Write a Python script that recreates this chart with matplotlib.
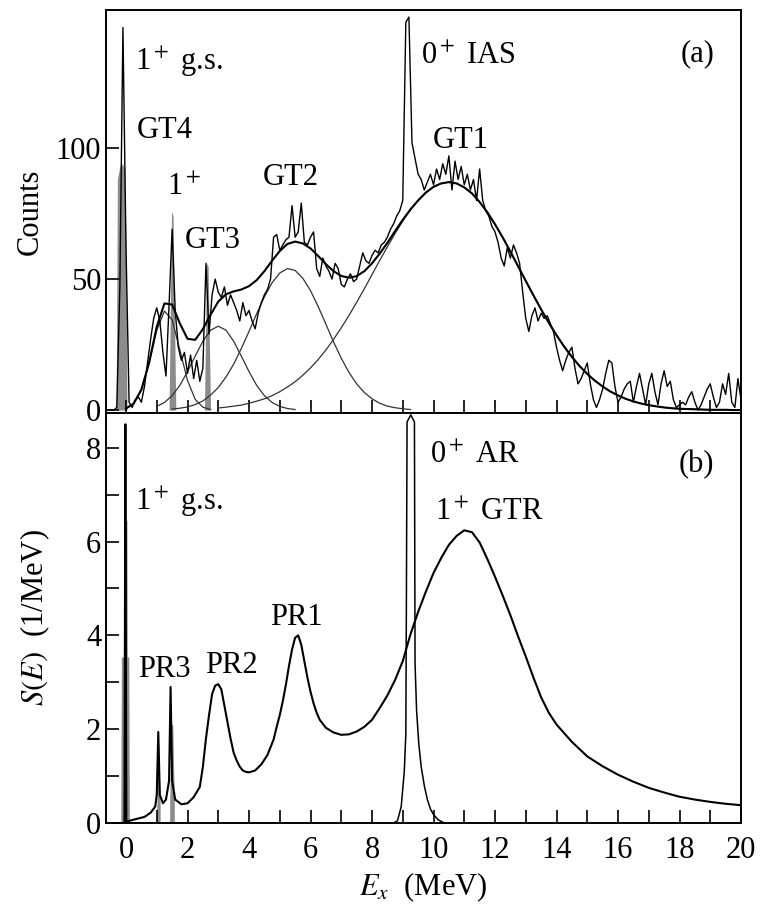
import numpy as np
import matplotlib
matplotlib.use("Agg")
import matplotlib.pyplot as plt

plt.rcParams.update({
    "font.family": "serif",
    "font.serif": ["Liberation Serif", "DejaVu Serif"],
    "mathtext.fontset": "stix",
    "font.size": 22,
})

# ---- panel (a): measured spectrum, 0.1 MeV bins starting at -0.6 MeV
spec_e0 = -0.6
spec_step = 0.1
spec_counts = [
    0, 0, 0, 1, 47, 146,
    62, 3, 1, 4, 5, 3, 9, 18, 27, 35,
    39, 34, 22, 13, 40, 69, 38, 24, 19, 22,
    14, 21, 12, 19, 11, 16, 56, 29, 44, 50,
    45, 43, 47, 40, 44, 41, 38, 34, 41, 36,
    38, 34, 31, 37, 41, 44, 46, 50, 66, 67,
    61, 63, 65, 66, 78, 66, 68, 79, 64, 63,
    66, 68, 54, 51, 58, 55, 53, 50, 56, 54,
    48, 47, 50, 52, 49, 50, 55, 60, 57, 56,
    59, 61, 60, 63, 64, 66, 69, 71, 74, 76,
    80, 148, 150, 102, 96, 90, 88, 84, 87, 90,
    86, 92, 88, 94, 90, 97, 84, 95, 88, 93,
    86, 90, 84, 88, 80, 92, 80, 76, 74, 70,
    68, 64, 58, 55, 62, 58, 63, 60, 56, 45,
    35, 30, 36, 39, 34, 37, 35, 36, 33, 30,
    24, 19, 15, 19, 22, 24, 16, 10, 12, 15,
    18, 10, 4, 1, 4, 8, 14, 19, 18, 9,
    3, 5, 8, 10, 11, 3, 9, 14, 8, 2,
    10, 14, 7, 2, 10, 15, 9, 11, 4, 1,
    2, 3, 2, 5, 7, 3, 0, 2, 5, 8,
    10, 5, 1, 3, 10, 6, 14, 3, 1, 12,
    4,
]

# narrow peaks shown in grey
gs_a_e = [-0.32, -0.28, -0.2, -0.12, -0.04, 0.0, 0.03]
gs_a_c = [0, 88, 93, 94, 92, 60, 0]
p15_e = [1.4, 1.48, 1.53, 1.62]
p15_c = [0, 76, 74, 0]
p26_e = [2.55, 2.62, 2.67, 2.75]
p26_c = [0, 56, 55, 0]

# fitted broad components, 0.25 MeV grid, given by start energy
fit_step = 0.25
gt4_start = 0.0
gt4 = [0.6, 2.5, 7.8, 18, 30.4, 37.8, 34.4, 23, 11.3, 4.1, 1.1, 0.2]
gt3_start = 1.0
gt3 = [1.4, 2.9, 5.5, 9.4, 14.7, 20.6, 26.3, 30.5, 32, 30.5, 26.3, 20.6,
       14.7, 9.4, 5.5, 2.9, 1.4, 0.6, 0.2]
gt2_start = 1.5
gt2 = [0.4, 0.7, 1.2, 2.1, 3.5, 5.7, 8.6, 12.6, 17.5, 23.5, 30.0, 36.8,
       43.2, 48.6, 52.3, 54.0, 53.3, 50.3, 45.6, 39.5, 32.8, 26.0, 19.8,
       14.4, 10.0, 6.7, 4.3, 2.6, 1.5, 0.9, 0.5, 0.2]
gt1_start = 3.0
gt1 = [0.8, 1.1, 1.5, 1.9, 2.6, 3.4, 4.3, 5.5, 7.0, 8.8, 10.8, 13.3,
       16.1, 19.3, 22.9, 27.0, 31.4, 36.1, 41.1, 46.3, 51.7, 57.1, 62.3,
       67.4, 72.1, 76.4, 80.0, 83.0, 85.2, 86.5, 87.0, 86.5, 85.0, 82.7,
       79.4, 75.5, 70.9, 65.9, 60.5, 54.9, 49.3, 43.8, 38.4, 33.3, 28.6,
       24.2, 20.3, 16.8, 13.8, 11.2, 9.0, 7.1, 5.6, 4.3, 3.3, 2.5, 1.9,
       1.4, 1.0, 0.7, 0.5, 0.4, 0.3, 0.2, 0.1, 0.1, 0.1, 0.0, 0.0]

# ---- panel (b): strength function
sb_e = [-0.05, -0.02, 0.01, 0.3, 0.6, 0.8, 0.95, 1.0, 1.05, 1.1, 1.2, 1.3,
        1.4, 1.45, 1.5, 1.6, 1.8, 2.0, 2.2, 2.4, 2.5, 2.6, 2.7, 2.8, 2.9,
        3.0, 3.1, 3.2, 3.3, 3.4, 3.5, 3.6, 3.7, 3.8, 3.9, 4.0, 4.2, 4.4,
        4.6, 4.8, 4.9, 5.0, 5.1, 5.2, 5.3, 5.4, 5.5, 5.6, 5.7, 5.8, 5.9,
        6.0, 6.1, 6.2, 6.3, 6.5, 6.75, 7.0, 7.25, 7.5, 7.75, 8.0, 8.25,
        8.5, 8.75, 9.0, 9.25, 9.5, 9.75, 10.0, 10.25, 10.5, 10.75, 11.0,
        11.25, 11.5, 11.75, 12.0, 12.25, 12.5, 12.75, 13.0, 13.25, 13.5,
        13.75, 14.0, 14.5, 15.0, 15.5, 16.0, 16.5, 17.0, 17.5, 18.0, 18.5,
        19.0, 19.5, 20.0]
sb_s = [0, 8.5, 0.03, 0.08, 0.13, 0.22, 0.35, 0.6, 1.94, 0.6, 0.42, 0.5,
        0.9, 2.9, 0.9, 0.5, 0.4, 0.42, 0.55, 0.77, 1.2, 1.8, 2.3, 2.75, 2.93,
        2.96, 2.85, 2.5, 2.15, 1.8, 1.5, 1.33, 1.2, 1.12, 1.09, 1.08, 1.12,
        1.25, 1.45, 1.78, 2.05, 2.3, 2.6, 2.95, 3.35, 3.7, 3.95, 4.0, 3.8,
        3.45, 3.1, 2.8, 2.55, 2.35, 2.2, 2.03, 1.93, 1.88, 1.89, 1.95, 2.05,
        2.2, 2.45, 2.72, 3.05, 3.45, 4.02, 4.5, 4.93, 5.33, 5.65, 5.93,
        6.12, 6.24, 6.2, 5.98, 5.63, 5.25, 4.85, 4.43, 3.98, 3.55, 3.1,
        2.68, 2.35, 2.1, 1.73, 1.42, 1.21, 1.03, 0.88, 0.75, 0.65, 0.56,
        0.5, 0.45, 0.41, 0.38]

ar_e = [8.7, 8.83, 8.95, 9.05, 9.1, 9.12, 9.14, 9.26, 9.38, 9.4, 9.45, 9.52,
        9.6, 9.7, 9.8, 9.9, 10.0, 10.15, 10.35]
ar_s = [0, 0.05, 0.35, 1.1, 1.9, 5.0, 8.55, 8.7, 8.55, 3.4, 2.4, 1.7,
        1.2, 0.8, 0.5, 0.3, 0.18, 0.07, 0]

gs_b_e = [-0.17, -0.15, -0.06, -0.05, 0.03, 0.04, 0.09, 0.11]
gs_b_s = [0, 3.54, 3.54, 6.45, 6.45, 3.54, 3.54, 0]
pr3a_e = [1.0, 1.04, 1.07, 1.11]
pr3a_s = [0.3, 1.28, 1.28, 0.4]
pr3b_e = [1.42, 1.47, 1.52, 1.57]
pr3b_s = [0.4, 2.1, 2.1, 0.5]


def component_xy(start, values):
    e = start + fit_step * np.arange(len(values))
    return e, np.array(values, dtype=float)


def style_axis(ax):
    ax.tick_params(which="both", direction="in", length=9.5, width=1.2,
                   top=False, right=False)
    for sp in ax.spines.values():
        sp.set_linewidth(1.4)


def plot_panel_a(ax):
    e = spec_e0 + spec_step * np.arange(len(spec_counts))
    grey = "#8c8c8c"
    ax.fill_between(gs_a_e, gs_a_c, color=grey, lw=0, zorder=1)
    ax.fill_between(p15_e, p15_c, color=grey, lw=0, zorder=1)
    ax.fill_between(p26_e, p26_c, color=grey, lw=0, zorder=1)

    grid = np.round(np.arange(-0.5, 20.0 + 1e-9, fit_step), 3)
    total = np.zeros_like(grid)
    for start, vals in [(gt4_start, gt4), (gt3_start, gt3),
                        (gt2_start, gt2), (gt1_start, gt1)]:
        ce, cv = component_xy(start, vals)
        ax.plot(ce, cv, color="#333333", lw=0.9, zorder=2)
        i0 = int(round((start - grid[0]) / fit_step))
        total[i0:i0 + len(vals)] += cv
    mask = grid >= 0.0
    ax.plot(grid[mask], total[mask], color="black", lw=1.5, zorder=3)
    ax.plot(e, spec_counts, color="black", lw=1.0, zorder=4)

    ax.set_xlim(-0.65, 20)
    ax.set_ylim(-1.1, 152.7)
    ax.set_xticks(np.arange(0, 21, 1))
    ax.set_xticklabels([])
    ax.set_yticks([0, 50, 100])
    ax.set_ylabel("Counts")
    ax.yaxis.set_label_coords(-0.097, 0.5)
    style_axis(ax)

    kw = dict(ha="left", va="baseline")
    ax.text(0.29, 129.8, r"1$^+$ g.s.", **kw)
    ax.text(0.36, 104, "GT4", **kw)
    ax.text(1.34, 82, r"1$^+$", **kw)
    ax.text(1.92, 62, "GT3", **kw)
    ax.text(4.46, 86, "GT2", **kw)
    ax.text(9.58, 132, r"0$^+$ IAS", **kw)
    ax.text(9.97, 100, "GT1", **kw)
    ax.text(18.05, 133, "(a)", **kw)


def plot_panel_b(ax):
    grey = "#8c8c8c"
    ax.fill_between(gs_b_e, gs_b_s, color=grey, lw=0, zorder=1)
    ax.fill_between(pr3a_e, pr3a_s, color=grey, lw=0, zorder=1)
    ax.fill_between(pr3b_e, pr3b_s, color=grey, lw=0, zorder=1)
    ax.plot(ar_e, ar_s, color="black", lw=1.1, zorder=3)
    ax.plot(sb_e, sb_s, color="black", lw=1.5, zorder=4)

    ax.set_xlim(-0.65, 20)
    ax.set_ylim(0, 8.74)
    ax.set_xticks(np.arange(0, 21, 2))
    ax.set_xticks(np.arange(1, 20, 2), minor=True)
    ax.set_yticks([0, 2, 4, 6, 8])
    ax.set_yticks([1, 3, 5, 7], minor=True)
    ax.tick_params(axis="x", pad=9)
    ax.set_xlabel(r"$E_x$  (MeV)", labelpad=4)
    ax.set_ylabel(r"$S(E)$  (1/MeV)")
    ax.yaxis.set_label_coords(-0.085, 0.5)
    style_axis(ax)

    kw = dict(ha="left", va="baseline")
    ax.text(0.29, 6.67, r"1$^+$ g.s.", **kw)
    ax.text(0.39, 3.11, "PR3", **kw)
    ax.text(2.57, 3.2, "PR2", **kw)
    ax.text(4.69, 4.22, "PR1", **kw)
    ax.text(9.9, 7.68, r"0$^+$ AR", **kw)
    ax.text(10.06, 6.46, r"1$^+$ GTR", **kw)
    ax.text(17.98, 7.48, "(b)", **kw)


def main():
    fig = plt.figure(figsize=(7.6, 9.06), dpi=100)
    ax1 = fig.add_axes([0.1395, 0.5442, 0.8355, 0.4448])
    ax2 = fig.add_axes([0.1395, 0.0916, 0.8355, 0.4525])
    plot_panel_a(ax1)
    plot_panel_b(ax2)
    fig.savefig("out.png", dpi=100)
    plt.close(fig)


if __name__ == "__main__":
    main()
